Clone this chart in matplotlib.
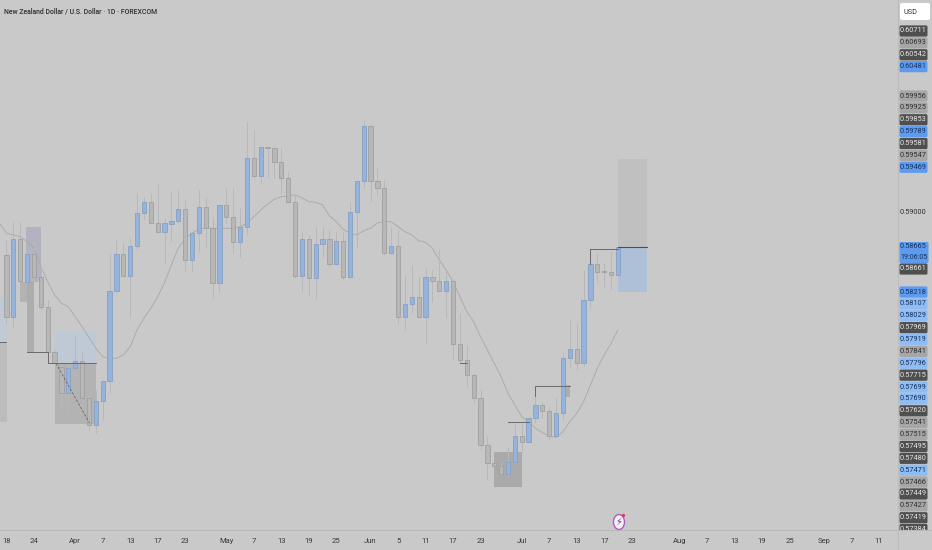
import matplotlib
matplotlib.use("Agg")
import matplotlib.pyplot as plt
from matplotlib.patches import Rectangle, FancyBboxPatch, Ellipse, Circle

plt.rcParams['font.family'] = ['Roboto', 'DejaVu Sans']

BG = '#c9c9c9'
W, H = 932, 550

opens = [.58580, .57957, .58737, .58313, .58587, .58363, .58057, .57613, .57463, .57197,
         .57447, .57523, .57147, .56880, .57120, .57320, .58217, .58590, .58370, .58670,
         .58997, .59113, .58897, .58810, .58890, .58923, .59037, .58530, .58797, .59063,
         .58847, .58297, .59077, .58963, .58713, .58857, .59547, .59367, .59657, .59647,
         .59507, .59353, .59113, .58373, .58737, .58347, .58687, .58740, .58490, .58720,
         .58363, .59007, .59320, .59873, .59320, .59247, .58597, .58673, .57963, .58090,
         .58163, .57957, .58357, .58317, .58223, .58317, .57687, .57530, .57380, .57147,
         .56680, .56497, .56473, .56387, .56513, .56773, .56713, .56953, .57077, .57020,
         .56773, .56997, .57547, .57637, .57497, .58130, .58490, .58417, .58413, .58377]
closes = [.57957, .58737, .58323, .58587, .58363, .58057, .57613, .57497, .57197, .57453,
          .57523, .57153, .56880, .57123, .57320, .58217, .58590, .58370, .58670, .58997,
          .59113, .58897, .58810, .58897, .58923, .59037, .58530, .58797, .59063, .58847,
          .58297, .59077, .58963, .58713, .58857, .59547, .59367, .59657, .59650, .59507,
          .59353, .59113, .58373, .58737, .58347, .58687, .58740, .58490, .58720, .58363,
          .59007, .59320, .59873, .59320, .59247, .58597, .58673, .57963, .58090, .58163,
          .57957, .58357, .58317, .58223, .58317, .57687, .57530, .57380, .57147, .56680,
          .56497, .56473, .56387, .56513, .56773, .56713, .56953, .57077, .57020, .56773,
          .56997, .57547, .57637, .57497, .58130, .58490, .58413, .58413, .58377, .58657]
highs = [.58730, .58913, .58913, .58663, .58713, .58463, .58130, .57630, .57497, .57497,
         .57770, .57613, .57230, .57230, .57320, .58597, .58730, .58697, .58747, .59197,
         .59163, .59197, .59297, .58947, .59213, .59230, .59130, .58813, .59230, .59163,
         .58963, .59077, .59247, .59247, .59047, .59913, .59830, .59657, .59657, .59663,
         .59647, .59413, .59180, .58813, .58780, .58863, .58863, .58830, .58813, .58813,
         .59113, .59320, .59930, .59880, .59447, .59330, .58863, .58830, .58370, .58480,
         .58363, .58447, .58430, .58637, .58430, .58330, .57997, .57680, .57397, .57237,
         .56770, .56513, .56513, .56663, .56897, .56897, .56963, .57170, .57113, .57063,
         .57163, .57613, .57930, .57897, .58430, .58647, .58597, .58503, .58613, .58657]
lows = [.57897, .57847, .58313, .58297, .58313, .58030, .57597, .57463, .57013, .56980,
        .57363, .57063, .56830, .56797, .56930, .57197, .58197, .58363, .57963, .58630,
        .58930, .58890, .58797, .58497, .58713, .58897, .58413, .58413, .58613, .58647,
        .58147, .58213, .58897, .58597, .58563, .58780, .59347, .59297, .59347, .59347,
        .59197, .59097, .58347, .58223, .58180, .58140, .58563, .58463, .58480, .58330,
        .58347, .58647, .59247, .59113, .59180, .58570, .58590, .57897, .57830, .57997,
        .57947, .57697, .58113, .58213, .57947, .57530, .57497, .57263, .57097, .56630,
        .56330, .56463, .56380, .56363, .56497, .56603, .56697, .56897, .56947, .56730,
        .56763, .56930, .57463, .57430, .57470, .58047, .58313, .58247, .58230, .58370]

# moving average, first value is one bar left of the first candle
ma_values = [.58897, .58797, .58780, .58763, .58713, .58647, .58463, .58313, .58180, .58097,
             .58063, .57963, .57863, .57757, .57647, .57563, .57547, .57547, .57580, .57663,
             .57830, .57947, .58047, .58163, .58303, .58480, .58647, .58747, .58797, .58837,
             .58853, .58847, .58847, .58847, .58847, .58863, .58897, .58963, .59030, .59090,
             .59137, .59163, .59170, .59180, .59153, .59113, .59107, .59080, .58973, .58913,
             .58837, .58797, .58780, .58823, .58847, .58903, .58913, .58913, .58863, .58813,
             .58780, .58723, .58707, .58647, .58530, .58430, .58313, .58163, .58013, .57913,
             .57763, .57630, .57497, .57363, .57197, .57080, .56963, .56913, .56847, .56803,
             .56770, .56757, .56813, .56913, .56997, .57113, .57280, .57447, .57580, .57697,
             .57830]

tick_bars = [0, 4, 10, 14, 18, 22, 26, 32, 36, 40, 44, 48, 53, 57, 61, 65, 69, 75, 79, 83, 87, 91,
             98, 102, 106, 110, 114, 119, 123, 127]
tick_labels = ['18', '24', 'Apr', '7', '13', '17', '23', 'May', '7', '13', '19', '25', 'Jun', '5', '11',
               '17', '23', 'Jul', '7', '13', '17', '23', 'Aug', '7', '13', '19', '25', 'Sep', '7', '11']

# price scale labels, split by the stacks they sit in
stack_top = ['0.60711', '0.60693', '0.60542', '0.60481']
kinds_top = ['dark', 'mid', 'dark', 'blue']
stack_mid = ['0.59956', '0.59925', '0.59853', '0.59789', '0.59581', '0.59547', '0.59469']
kinds_mid = ['mid', 'mid', 'dark', 'blue', 'dark', 'mid', 'blue']
stack_low = ['0.58218', '0.58107', '0.58029', '0.57969', '0.57919', '0.57841', '0.57796', '0.57715',
             '0.57699', '0.57690', '0.57620', '0.57541', '0.57515', '0.57495', '0.57480', '0.57471',
             '0.57466', '0.57449', '0.57427', '0.57419', '0.57384']
kinds_low = ['blue', 'light', 'light', 'dark', 'light', 'mid', 'light', 'dark', 'light', 'light', 'dark',
             'mid', 'mid', 'dark', 'dark', 'light', 'mid', 'dark', 'mid', 'dark', 'dark']
last_price = '0.58665'
countdown = '19:06:05'
prev_price = '0.58661'
round_price = '0.59000'

label_colors = {'dark': ('#4f4f4f', '#e6e6e6'), 'mid': ('#a6a6a6', '#303030'),
                'blue': ('#5e9aee', '#15335e'), 'light': ('#90bcf4', '#15335e')}


def draw_candles(ax):
    for i in range(len(opens)):
        up = closes[i] > opens[i]
        face = '#94b3dd' if up else '#b7b7b7'
        edge = '#88a0c4' if up else '#a0a0a0'
        ax.plot([i, i], [lows[i], highs[i]], color='#b6b8bb', lw=0.7, zorder=3, solid_capstyle='butt')
        ax.add_patch(Rectangle((i - 0.31, min(opens[i], closes[i])), 0.62, abs(closes[i] - opens[i]),
                               facecolor=face, edgecolor=edge, lw=0.6, zorder=4))


def draw_zones(ax):
    # (x0, x1, price bottom, price top, colour, alpha)
    zones = [(-1, 0.1, .57713, .58163, '#b4cbe8', 0.4), (-1, 0.1, .56913, .57697, '#a0a0a0', 0.3),
             (1.9, 3, .58113, .58313, '#8a8a8a', 0.35), (3, 4, .57613, .58313, '#858585', 0.4),
             (2.9, 5, .58313, .58863, '#8a8ab0', 0.35), (7, 13.1, .57497, .57807, '#b4cbe8', 0.45),
             (7, 13.1, .56890, .57497, '#909090', 0.38), (71, 75, .56263, .56607, '#858585', 0.45),
             (81, 82, .57163, .57280, '#858585', 0.4), (89, 93.3, .58657, .59540, '#b0b0b0', 0.35),
             (89, 93.3, .58213, .58657, '#98bae6', 0.55)]
    for x0, x1, low, top, color, alpha in zones:
        ax.add_patch(Rectangle((x0, low), x1 - x0, top - low, facecolor=color, edgecolor='none',
                               alpha=alpha, zorder=1))
    line = dict(color='#6a6a6a', lw=0.7, zorder=5)
    ax.plot([-1, 0], [.57713, .57713], **line)
    ax.plot([3, 6.1, 6.1, 13.1], [.57613, .57613, .57497, .57497], **line)
    ax.plot([7.2, 12.1], [.57497, .56897], color='#666666', lw=0.6, ls=(0, (3, 2)), zorder=5)
    ax.plot([66, 67], [.57497, .57497], **line)
    ax.plot([73, 76], [.56907, .56907], **line)
    ax.plot([77, 77, 82], [.57170, .57273, .57273], **line)
    ax.plot([85, 85, 89], [.58490, .58637, .58637], **line)
    ax.plot([89, 93.3], [.58657, .58657], color='#505050', lw=0.8, zorder=5)


def price_tag(over, y, text, kind):
    face, color = label_colors[kind]
    over.add_patch(FancyBboxPatch((899.5, y - 5.6), 28, 11.2, boxstyle='round,pad=0,rounding_size=1.5',
                                  facecolor=face, edgecolor='none', zorder=6))
    over.text(913.5, y, text, color=color, fontsize=5.3, ha='center', va='center', zorder=7)


fig = plt.figure(figsize=(W / 100, H / 100), dpi=100, facecolor=BG)
ax = fig.add_axes([0, 1 - 530 / H, 897 / W, 530 / H], facecolor=BG)
ax.set_xlim(-6.5 / 6.87, (897 - 6.5) / 6.87)
ax.set_ylim(.5583, .6113)
ax.set_yticks([])
ax.set_xticks(tick_bars)
ax.set_xticklabels(tick_labels, fontsize=5.5, color='#3a3a3a')
ax.tick_params(axis='x', length=0, pad=6)
for side in ['top', 'left', 'right', 'bottom']:
    ax.spines[side].set_visible(False)

draw_zones(ax)
draw_candles(ax)
ax.plot(range(-1, len(ma_values) - 1), ma_values, color='#a8a8a8', lw=0.6, zorder=2)

# pixel overlay for the header, price tags and the icon
over = fig.add_axes([0, 0, 1, 1], facecolor='none')
over.set_xlim(0, W)
over.set_ylim(H, 0)
over.axis('off')
over.plot([897.5, 897.5], [0, H], color='#bcbcbc', lw=0.8)
over.text(4, 11, 'New Zealand Dollar / U.S. Dollar · 1D · FOREXCOM', fontsize=4.95, color='#2e2e2e',
          fontweight='medium', va='center')

over.add_patch(FancyBboxPatch((900, 3), 30, 17, boxstyle='round,pad=0,rounding_size=2',
                              facecolor='white', edgecolor='none'))
over.text(910, 12, 'USD', fontsize=5.2, color='#333333', ha='center', va='center')

for start, texts, kinds in [(31, stack_top, kinds_top), (96, stack_mid, kinds_mid), (292, stack_low, kinds_low)]:
    for n, (text, kind) in enumerate(zip(texts, kinds)):
        price_tag(over, start + n * 11.88, text, kind)
over.add_patch(Rectangle((898.5, 530), 34, 20, facecolor=BG, edgecolor='none', zorder=8))
over.plot([0, 932], [530, 530], color='#b8b8b8', lw=0.8, zorder=9)

over.text(913.5, 213, round_price, fontsize=5.3, color='#303030', ha='center', va='center')
over.add_patch(FancyBboxPatch((899.5, 242), 29, 21, boxstyle='round,pad=0,rounding_size=1.5',
                              facecolor=label_colors['blue'][0], edgecolor='none', zorder=6))
over.text(913.5, 247, last_price, fontsize=5.3, color='#15335e', ha='center', va='center', zorder=7)
over.text(913.5, 257.5, countdown, fontsize=5, color='#15335e', ha='center', va='center', zorder=7)
price_tag(over, 269, prev_price, 'dark')

over.add_patch(Ellipse((619, 522), 11, 15, facecolor='#f4f0f6', edgecolor='#ab5cc4', lw=1.0, zorder=6))
over.text(619, 522, '⚡', fontsize=7, color='#7d2a9a', ha='center', va='center', zorder=7,
          family='DejaVu Sans')
over.add_patch(Circle((623.5, 515.5), 1.6, facecolor='#e0335a', edgecolor='none', zorder=8))

fig.savefig('out.png', dpi=100, facecolor=BG)
